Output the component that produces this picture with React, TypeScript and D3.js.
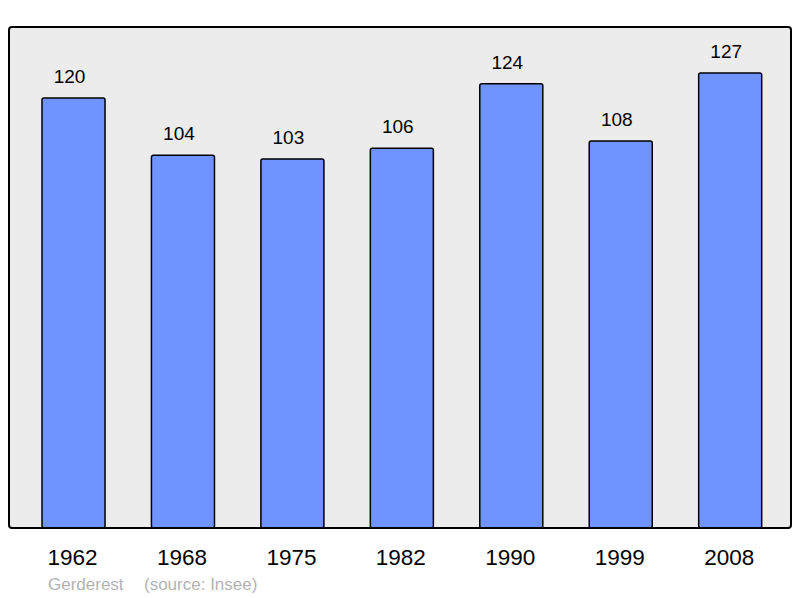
import React, { useEffect, useRef } from 'react';
import * as d3 from 'd3';

const years = ['1962', '1968', '1975', '1982', '1990', '1999', '2008'];
const population = [120, 104, 103, 106, 124, 108, 127];
const author = 'Gerderest';
const source = '(source: Insee)';

const W = 800;
const H = 598;

const App = () => {
    const ref = useRef<SVGSVGElement>(null);

    useEffect(() => {
        const svg = d3.select(ref.current);
        svg.selectAll('*').remove();

        const frame = { left: 9, top: 27, right: 791, bottom: 528 };

        const x = d3
            .scaleBand()
            .domain(years)
            .range([42, 761.7])
            .paddingInner(0.424)
            .paddingOuter(0);

        const y = d3
            .scaleLinear()
            .domain([0, 140])
            .range([frame.bottom, frame.bottom - 140 * 3.583]);

        // panel
        svg.append('rect')
            .attr('x', frame.left)
            .attr('y', frame.top)
            .attr('width', frame.right - frame.left)
            .attr('height', frame.bottom - frame.top)
            .attr('rx', 3)
            .attr('fill', '#ececec')
            .attr('stroke', 'none');

        const data = years.map((yr, i) => ({ year: yr, value: population[i] }));

        svg.selectAll('rect.bar')
            .data(data)
            .enter()
            .append('rect')
            .attr('class', 'bar')
            .attr('x', (d) => x(d.year)!)
            .attr('y', (d) => y(d.value))
            .attr('width', x.bandwidth())
            .attr('height', (d) => y(0) - y(d.value))
            .attr('rx', 2)
            .attr('fill', '#7094ff')
            .attr('stroke', '#000')
            .attr('stroke-width', 1.5);

        // frame border on top
        svg.append('rect')
            .attr('x', frame.left)
            .attr('y', frame.top)
            .attr('width', frame.right - frame.left)
            .attr('height', frame.bottom - frame.top)
            .attr('rx', 3)
            .attr('fill', 'none')
            .attr('stroke', '#000')
            .attr('stroke-width', 2);

        svg.selectAll('text.val')
            .data(data)
            .enter()
            .append('text')
            .attr('class', 'val')
            .attr('x', (d) => x(d.year)! + x.bandwidth() / 2 - 4)
            .attr('y', (d) => y(d.value) - 15)
            .attr('text-anchor', 'middle')
            .attr('font-family', 'Liberation Sans, Arial, sans-serif')
            .attr('font-size', 19)
            .attr('fill', '#000')
            .text((d) => d.value);

        svg.selectAll('text.year')
            .data(years)
            .enter()
            .append('text')
            .attr('class', 'year')
            .attr('x', (d) => x(d)! + x.bandwidth() / 2 - 1)
            .attr('y', 565)
            .attr('text-anchor', 'middle')
            .attr('font-family', 'Liberation Sans, Arial, sans-serif')
            .attr('font-size', 22.5)
            .attr('fill', '#000')
            .text((d) => d);

        svg.append('text')
            .attr('x', 48)
            .attr('y', 590)
            .attr('font-family', 'Liberation Sans, Arial, sans-serif')
            .attr('font-size', 17)
            .attr('fill', '#b3b3b3')
            .text(author);

        svg.append('text')
            .attr('x', 144)
            .attr('y', 590)
            .attr('font-family', 'Liberation Sans, Arial, sans-serif')
            .attr('font-size', 17)
            .attr('fill', '#b3b3b3')
            .text(source);
    }, []);

    return (
        <svg
            ref={ref}
            width={W}
            height={H}
            style={{ position: 'absolute', left: 0, top: 0, background: '#fff' }}
        />
    );
};

export default App;
